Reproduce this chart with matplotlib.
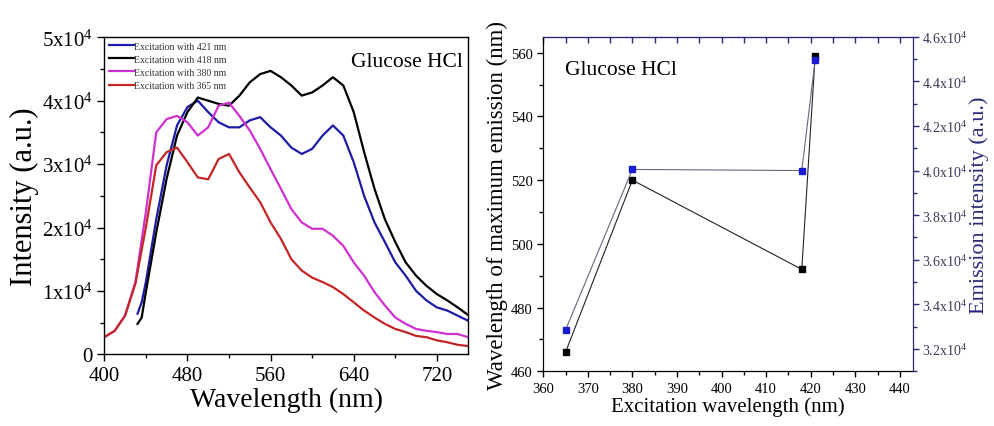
import matplotlib
matplotlib.use("Agg")
import matplotlib.pyplot as plt
from matplotlib.ticker import MultipleLocator, FuncFormatter

plt.rcParams['font.family'] = ['Liberation Serif', 'DejaVu Serif']
plt.rcParams['mathtext.fontset'] = 'custom'
plt.rcParams['mathtext.rm'] = 'Liberation Serif'
plt.rcParams['mathtext.it'] = 'Liberation Serif'

# ---------------- Left panel data (emission spectra) ----------------
wl_a = [400, 410, 420, 430, 440, 450, 460, 470, 480, 490, 500, 510, 520, 530, 540,
        550, 560, 570, 580, 590, 600, 610, 620, 630, 640, 650, 660, 670, 680, 690,
        700, 710, 720, 730, 740, 750]
int_380 = [2700, 3700, 6100, 11400, 22400, 35000, 37100, 37600, 36600, 34500, 35800,
           39200, 39700, 37600, 35300, 32400, 29200, 26100, 22900, 20800, 19800, 19800,
           18700, 17100, 14500, 12400, 9800, 7700, 5800, 4800, 4000, 3700, 3500, 3200,
           3200, 2700]
int_365 = [2700, 3700, 6100, 11200, 20000, 29800, 31900, 32600, 30300, 27900, 27600,
           30800, 31600, 28700, 26300, 24000, 20800, 18200, 15000, 13200, 12100, 11400,
           10600, 9500, 8200, 6900, 5800, 4800, 4000, 3500, 2900, 2700, 2200, 1900,
           1500, 1300]

wl_b = [432, 436, 440, 450, 460, 470, 480, 490, 500, 510, 520, 530, 540, 550, 560,
        570, 580, 590, 600, 610, 620, 630, 640, 650, 660, 670, 680, 690, 700, 710,
        720, 730, 740, 750]
int_418 = [4800, 5800, 9800, 19200, 27700, 34500, 38200, 40500, 40000, 39500, 39200,
           40800, 42900, 44200, 44700, 43700, 42400, 40800, 41300, 42400, 43700, 42400,
           38200, 31900, 26100, 21300, 17700, 14500, 12400, 10800, 9500, 8500, 7400, 6200]
int_421 = [6400, 8200, 11400, 21300, 29800, 36100, 39000, 40000, 38200, 36600, 35800,
           35800, 36900, 37400, 35800, 34500, 32600, 31600, 32400, 34500, 36100, 34500,
           30300, 25000, 20800, 17700, 14500, 12400, 10000, 8500, 7400, 6900, 6100, 5300]

spec_labels = ['Excitation with 421 nm', 'Excitation with 418 nm',
               'Excitation with 380 nm', 'Excitation with 365 nm']

# ---------------- Right panel data ----------------
exc_wl = [365, 380, 418, 421]
max_em_wl = [466, 520, 492, 559]
max_em_int = [32850, 40050, 40000, 44950]

sample_label = 'Glucose HCl'

# ---------------- Figure ----------------
fig = plt.figure(figsize=(9.95, 4.27), dpi=100)

# Left panel
ax1 = fig.add_axes([0.1048, 0.1679, 0.3656, 0.7424])
c_blue, c_black, c_mag, c_red = '#1c1ca6', '#000000', '#d030d0', '#c42626'
ax1.plot(wl_b, int_421, color=c_blue, lw=1.6, label=spec_labels[0])
ax1.plot(wl_b, int_418, color=c_black, lw=1.6, label=spec_labels[1])
ax1.plot(wl_a, int_380, color=c_mag, lw=1.6, label=spec_labels[2])
ax1.plot(wl_a, int_365, color=c_red, lw=1.6, label=spec_labels[3])
ax1.set_xlim(400, 750)
ax1.set_ylim(0, 50000)
ax1.xaxis.set_major_locator(MultipleLocator(80))
ax1.xaxis.set_minor_locator(MultipleLocator(40))
ax1.yaxis.set_major_locator(MultipleLocator(10000))
ax1.yaxis.set_minor_locator(MultipleLocator(5000))


def sci_fmt(v, pos):
    if abs(v) < 1e-9:
        return '0'
    return r'$%g\mathrm{x}10^{4}$' % (v / 1e4)


def sci_fmt1(v, pos):
    return r'$%.1f\mathrm{x}10^{4}$' % (v / 1e4)


ax1.yaxis.set_major_formatter(FuncFormatter(sci_fmt))
ax1.tick_params(axis='both', which='major', direction='out', length=5, width=1,
                labelsize=15, top=False, right=False)
ax1.tick_params(axis='both', which='minor', direction='out', length=3, width=1,
                top=False, right=False)
ax1.set_xlabel('Wavelength (nm)', fontsize=20, labelpad=1)
ax1.set_ylabel('Intensity (a.u.)', fontsize=22, labelpad=2)
for s in ax1.spines.values():
    s.set_linewidth(1.0)
ax1.text(0.985, 0.955, sample_label, transform=ax1.transAxes, ha='right', va='top',
         fontsize=15.5)
leg = ax1.legend(loc='upper left', bbox_to_anchor=(0.0, 1.0), frameon=False,
                 fontsize=7, handlelength=2.6, handletextpad=0.05,
                 labelspacing=0.42, borderaxespad=0.25, borderpad=0.2)
for t in leg.get_texts():
    t.set_color('#333333')

# Right panel
navy = '#28287a'
ax2 = fig.add_axes([0.546, 0.1281, 0.3718, 0.7836])
ax2.plot(exc_wl, max_em_wl, color='#222222', lw=0.8, marker='s', ms=4.5,
         mfc='black', mec='black', zorder=3)
ax2.set_xlim(360, 443)
ax2.set_ylim(460, 565)
ax2.xaxis.set_major_locator(MultipleLocator(10))
ax2.xaxis.set_minor_locator(MultipleLocator(5))
ax2.yaxis.set_major_locator(MultipleLocator(20))
ax2.yaxis.set_minor_locator(MultipleLocator(10))
ax2.tick_params(axis='both', which='major', direction='out', length=4, width=1,
                labelsize=10.5, top=False)
ax2.tick_params(axis='both', which='minor', direction='out', length=3, width=1,
                top=False)
ax2.set_xlabel('Excitation wavelength (nm)', fontsize=15, labelpad=1)
ax2.set_ylabel('Wavelength of maximum emission (nm)', fontsize=16.5, labelpad=2)
ax2.text(0.06, 0.93, sample_label, transform=ax2.transAxes, ha='left', va='top',
         fontsize=15.5)

ax3 = ax2.twinx()
ax3.plot(exc_wl, max_em_int, color='#66667a', lw=0.8, marker='s', ms=4.5,
         mfc='#1a1ad0', mec='#1a1ad0', zorder=3)
ax3.set_ylim(31000, 46000)
ax3.yaxis.set_major_locator(MultipleLocator(2000))
ax3.yaxis.set_minor_locator(MultipleLocator(1000))
ax3.yaxis.set_major_formatter(FuncFormatter(sci_fmt1))
ax3.tick_params(axis='y', which='major', direction='out', length=4, width=1,
                labelsize=10, colors=navy, labelcolor='#3a3a5a', pad=2)
ax3.tick_params(axis='y', which='minor', direction='out', length=3, width=1,
                colors=navy)
ax3.spines['right'].set_color(navy)
ax3.spines['top'].set_color(navy)
ax3.set_ylabel('Emission intensity (a.u.)', fontsize=16, color=navy, labelpad=2)

# top inward ticks on the right panel
axt = ax2.secondary_xaxis('top')
axt.xaxis.set_major_locator(MultipleLocator(5))
axt.tick_params(axis='x', direction='in', length=4, width=1, labeltop=False,
                colors=navy)
axt.spines['top'].set_color(navy)

fig.savefig('out.png', dpi=100)
